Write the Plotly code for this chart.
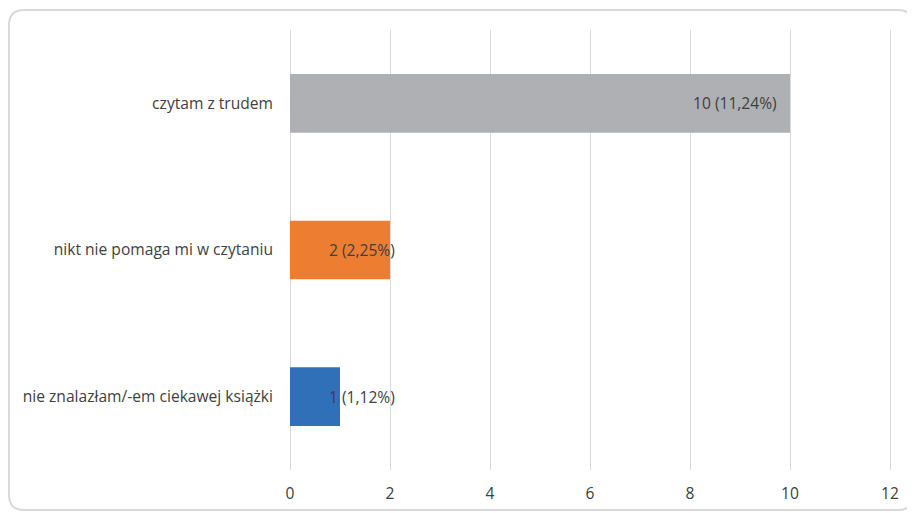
import plotly.graph_objects as go

categories = ["nie znalazłam/-em ciekawej książki", "nikt nie pomaga mi w czytaniu", "czytam z trudem"]
values = [1, 2, 10]
percents = ["1,12%", "2,25%", "11,24%"]
colors = ["#3070B8", "#ED7D31", "#AFB0B3"]
tick_vals = [0, 2, 4, 6, 8, 10, 12]

labels = [f"{v} ({p})" for v, p in zip(values, percents)]
FONT = "Open Sans"
FS = 15.6
TXT = "#404040"

fig = go.Figure()
fig.add_trace(go.Bar(
    y=categories, x=values, orientation="h",
    marker=dict(color=colors, line=dict(width=0)),
    width=0.4, hoverinfo="skip",
))

for cat, v, lab in zip(categories, values, labels):
    if v >= 5:
        fig.add_annotation(x=v, y=cat, text=lab, xanchor="right", xshift=-11,
                           showarrow=False, font=dict(size=FS, color=TXT, family=FONT))
    else:
        fig.add_annotation(x=0, y=cat, text=lab, xanchor="left", xshift=37,
                           showarrow=False, font=dict(size=FS, color=TXT, family=FONT))

# rounded chart border (paper coords; plot area = 604 x 440 px, starts at l=280, t=22)
W, H, L, T = 604.0, 440.0, 280.0, 22.0
def px(x):
    return (x - L) / W
def py(y):
    return 1 - (y - T) / H
x0, x1, y0, y1, r = 1.0, 905.0, 2.0, 502.0, 15.0
path = (f"M {px(x0+r)},{py(y0)} L {px(x1-r)},{py(y0)} Q {px(x1)},{py(y0)} {px(x1)},{py(y0+r)} "
        f"L {px(x1)},{py(y1-r)} Q {px(x1)},{py(y1)} {px(x1-r)},{py(y1)} "
        f"L {px(x0+r)},{py(y1)} Q {px(x0)},{py(y1)} {px(x0)},{py(y1-r)} "
        f"L {px(x0)},{py(y0+r)} Q {px(x0)},{py(y0)} {px(x0+r)},{py(y0)} Z")
fig.add_shape(type="path", xref="paper", yref="paper", path=path,
              line=dict(color="#D9D9D9", width=2), fillcolor="rgba(0,0,0,0)", layer="below")

fig.update_layout(
    width=907, height=505,
    margin=dict(l=280, r=23, t=22, b=43),
    paper_bgcolor="white", plot_bgcolor="white",
    showlegend=False,
    font=dict(family=FONT, size=FS, color=TXT),
    xaxis=dict(range=[-0.04, 12.04], tickvals=tick_vals, showgrid=True, gridcolor="#D9D9D9",
               gridwidth=1, zeroline=True, zerolinecolor="#D9D9D9", zerolinewidth=1,
               showline=False, ticks="", fixedrange=True, automargin=False,
               ticklabelstandoff=12, tickfont=dict(size=FS, color=TXT)),
    yaxis=dict(showgrid=False, zeroline=False, showline=False, ticks="", automargin=False,
               ticklabelstandoff=14, tickfont=dict(size=FS, color=TXT),
               range=[-0.5, 2.5]),
)

fig.write_html("out.html")
